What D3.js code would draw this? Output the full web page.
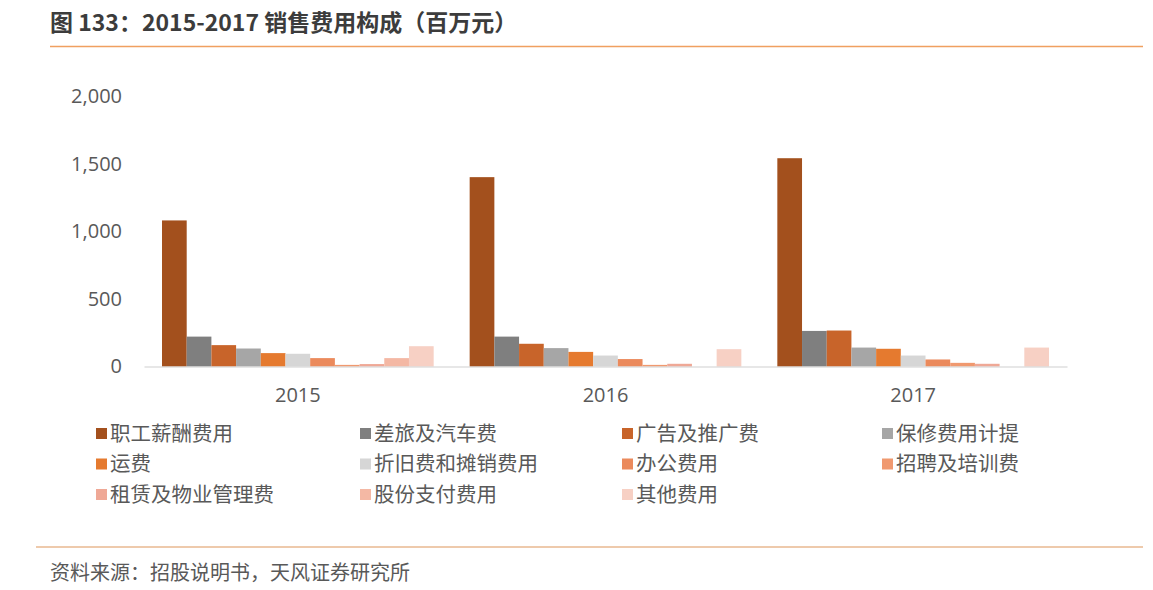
<!DOCTYPE html>
<html>
<head>
<meta charset="utf-8">
<script src="https://cdn.jsdelivr.net/npm/d3@7"></script>
<style>
  body { margin: 0; background: #fff; }
  svg { display: block; }
</style>
</head>
<body>
<svg id="chart" width="1153" height="590"></svg>
<script>
/* global d3 */
var years = ["2015", "2016", "2017"];
var seriesNames = ["职工薪酬费用", "差旅及汽车费", "广告及推广费", "保修费用计提", "运费",
    "折旧费和摊销费用", "办公费用", "招聘及培训费", "租赁及物业管理费", "股份支付费用", "其他费用"];
var seriesColors = ["#a3501d", "#7f7f7f", "#c8642a", "#a6a6a6", "#e57a2f",
    "#d6d6d6", "#eb8a5c", "#f0996f", "#efa896", "#f4b8a4", "#f7d0c4"];

// values per series for 2015, 2016, 2017 (百万元)
var salary = [1080, 1400, 1540];
var travel = [221, 221, 263];
var advert = [158, 168, 266];
var warranty = [133, 136, 140];
var freight = [99, 108, 131];
var depreciation = [94, 81, 81];
var office = [62, 55, 52];
var recruit = [12, 12, 27];
var rent = [18, 20, 20];
var shareBased = [62, 0, 0];
var other = [150, 128, 140];
var seriesValues = [salary, travel, advert, warranty, freight, depreciation,
    office, recruit, rent, shareBased, other];

var yTicks = [0, 500, 1000, 1500, 2000];

var title = "图 133：2015-2017 销售费用构成（百万元）";
var source = "资料来源：招股说明书，天风证券研究所";

var svg = d3.select("#chart"),
    cjk = "'Noto Sans CJK SC', 'Noto Sans', sans-serif",
    num = "'Open Sans', 'Noto Sans CJK SC', sans-serif";

// header
svg.append("text")
    .attr("x", 50).attr("y", 31)
    .attr("font-family", cjk).attr("font-size", 23).attr("font-weight", "bold")
    .attr("fill", "#3c3c3c")
    .text(title);
svg.append("line")
    .attr("x1", 50).attr("x2", 1143).attr("y1", 46.5).attr("y2", 46.5)
    .attr("stroke", "#f0a060").attr("stroke-width", 1.5);

// scales
var x0 = d3.scaleBand().domain(years).range([144, 1067]).paddingInner(0.117).paddingOuter(0.0585);
var x1 = d3.scaleBand().domain(seriesNames).range([0, x0.bandwidth()]);
var y = d3.scaleLinear().domain([0, 2000]).range([366.5, 96]);

// y axis labels
var yAxis = svg.append("g").attr("transform", "translate(122,0)")
    .call(d3.axisLeft(y).tickValues(yTicks).tickSize(0).tickPadding(0).tickFormat(d3.format(",")));
yAxis.select(".domain").remove();
yAxis.selectAll("text")
    .attr("font-family", num).attr("font-size", 20).attr("fill", "#595959");

// bars
var rows = [];
seriesNames.forEach(function (s, i) {
    years.forEach(function (yr, j) {
        rows.push({series: s, year: yr, value: seriesValues[i][j], color: seriesColors[i]});
    });
});

svg.append("g").selectAll("rect")
    .data(rows).enter().append("rect")
    .attr("x", function (d) { return x0(d.year) + x1(d.series); })
    .attr("width", x1.bandwidth())
    .attr("y", function (d) { return y(d.value); })
    .attr("height", function (d) { return y(0) - y(d.value); })
    .attr("fill", function (d) { return d.color; });

// x axis
var xAxis = svg.append("g").attr("transform", "translate(0," + y(0) + ")")
    .call(d3.axisBottom(x0).tickSize(0).tickPadding(21).tickSizeOuter(0));
xAxis.select(".domain").attr("stroke", "#d0d0d0").attr("stroke-width", 1.2);
xAxis.selectAll("text")
    .attr("font-family", num).attr("font-size", 20).attr("fill", "#595959");

// legend
var legendX = [96, 360, 622, 882],
    legendY = [433.5, 464, 494.5];
var legend = svg.append("g").selectAll("g")
    .data(seriesNames).enter().append("g")
    .attr("transform", function (d, i) {
        return "translate(" + legendX[i % 4] + "," + legendY[Math.floor(i / 4)] + ")";
    });
legend.append("rect")
    .attr("x", 0).attr("y", -5.5).attr("width", 11).attr("height", 11)
    .attr("fill", function (d, i) { return seriesColors[i]; });
legend.append("text")
    .attr("x", 14).attr("y", 0).attr("dy", "0.35em")
    .attr("font-family", cjk).attr("font-size", 20.5).attr("fill", "#595959")
    .text(function (d) { return d; });

// footer
svg.append("line")
    .attr("x1", 36).attr("x2", 1143).attr("y1", 547).attr("y2", 547)
    .attr("stroke", "#e8b890").attr("stroke-width", 1.5);
svg.append("text")
    .attr("x", 50).attr("y", 573).attr("dy", "0.35em")
    .attr("font-family", cjk).attr("font-size", 20).attr("fill", "#595959")
    .text(source);
</script>
</body>
</html>
